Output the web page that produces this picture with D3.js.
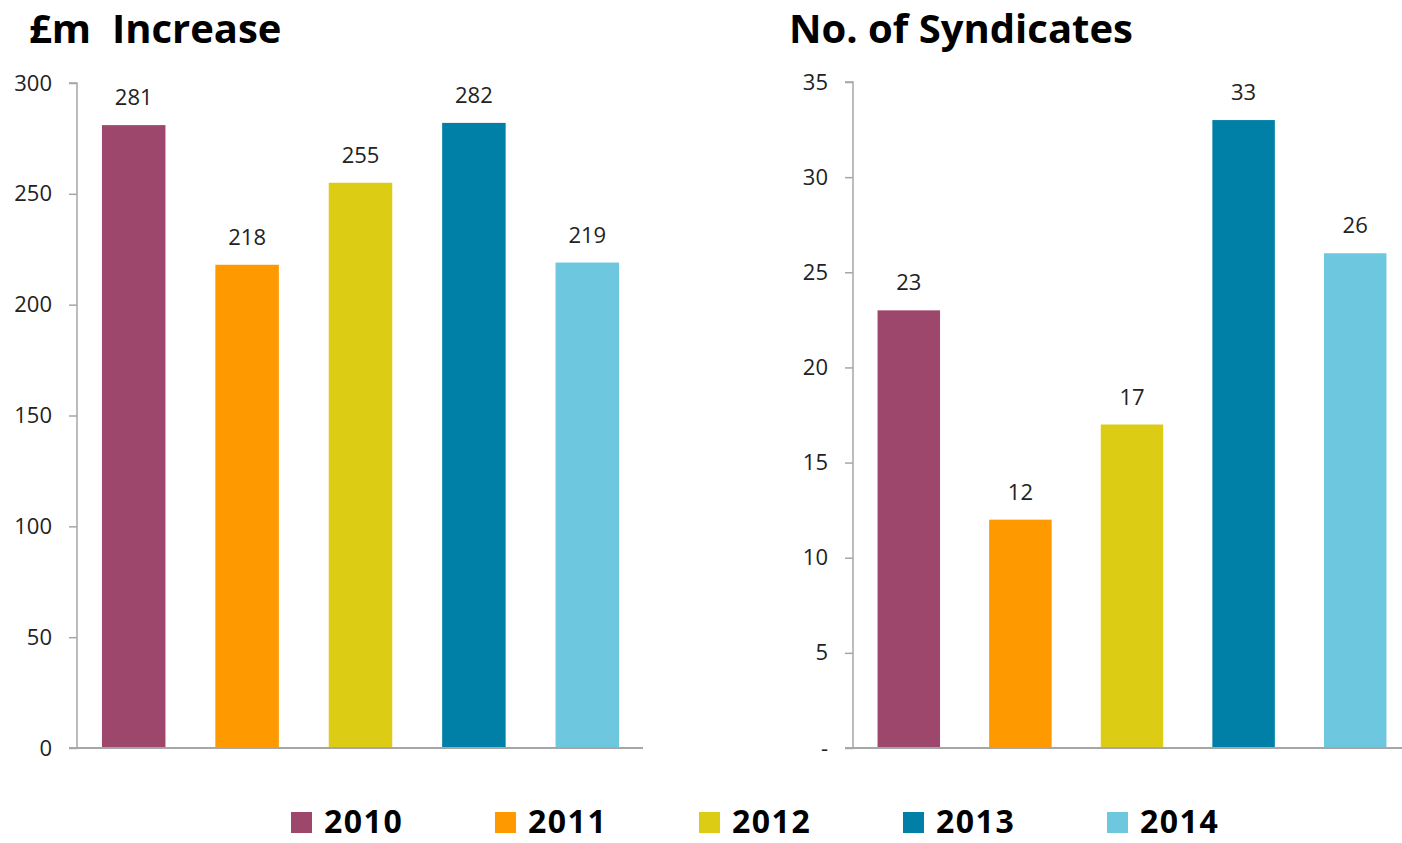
<!DOCTYPE html>
<html>
<head>
<meta charset="utf-8">
<script src="https://cdn.jsdelivr.net/npm/d3@7"></script>
<style>
  body { margin: 0; background: #fff; }
  svg { display: block; font-family: "Open Sans", "Noto Sans", sans-serif; }
</style>
</head>
<body>
<svg id="chart" width="1402" height="843"></svg>
<script>
const years = ["2010", "2011", "2012", "2013", "2014"];
const colours = ["#9e476d", "#ff9900", "#dccc13", "#0080a6", "#6dc7df"];
const increaseValues = [281, 218, 255, 282, 219];
const syndicateValues = [23, 12, 17, 33, 26];
const increaseTicks = [0, 50, 100, 150, 200, 250, 300];
const syndicateTicks = [0, 5, 10, 15, 20, 25, 30, 35];

const svg = d3.select("#chart");
const axisGrey = "#a6a6a6";

// draws one panel: title, y axis, bars, value labels
function panel(opts) {
  const g = svg.append("g");
  const x = d3.scaleBand().domain(years).range([opts.x0, opts.x1]).paddingInner(0.44).paddingOuter(0.22);
  const y = d3.scaleLinear().domain([0, opts.max]).range([748, opts.top]);

  g.append("text")
    .attr("x", opts.titleX).attr("y", 43)
    .attr("font-size", 40).attr("font-weight", 700).attr("fill", "#000")
    .style("white-space", "pre")
    .text(opts.title);

  const yAxis = d3.axisLeft(y).tickValues(opts.ticks).tickSize(8).tickPadding(17)
    .tickFormat(opts.fmt);
  const ax = g.append("g").attr("transform", `translate(${opts.x0},0)`).call(yAxis);
  ax.select(".domain").attr("stroke", axisGrey).attr("stroke-width", 1.5).attr("d", `M-8,${opts.top}H0V748`);
  ax.selectAll(".tick line").attr("stroke", axisGrey).attr("stroke-width", 1.5);
  ax.selectAll(".tick text").attr("font-size", 22).attr("fill", "#222").attr("font-family", "'Open Sans', sans-serif");

  g.append("line")
    .attr("x1", opts.x0 - 8).attr("x2", opts.axisEnd)
    .attr("y1", 748).attr("y2", 748)
    .attr("stroke", axisGrey).attr("stroke-width", 2);

  g.selectAll("rect.bar").data(opts.values).join("rect")
    .attr("class", "bar")
    .attr("x", (d, i) => x(years[i]))
    .attr("width", x.bandwidth())
    .attr("y", d => y(d))
    .attr("height", d => 747 - y(d))
    .attr("fill", (d, i) => colours[i]);

  g.selectAll("text.val").data(opts.values).join("text")
    .attr("class", "val")
    .attr("x", (d, i) => x(years[i]) + x.bandwidth() / 2)
    .attr("y", d => y(d) - 20)
    .attr("text-anchor", "middle")
    .attr("font-size", 22).attr("fill", "#222")
    .text(d => d);
}

panel({
  title: "£m\u00a0\u00a0Increase", titleX: 29,
  x0: 77, x1: 644, axisEnd: 643, top: 83, max: 300,
  values: increaseValues, ticks: increaseTicks, fmt: d => d
});

panel({
  title: "No. of Syndicates", titleX: 789,
  x0: 853, x1: 1411, axisEnd: 1402, top: 82, max: 35,
  values: syndicateValues, ticks: syndicateTicks, fmt: d => d === 0 ? "-" : d
});

// legend
const legend = svg.append("g").attr("transform", "translate(291,812)");
const item = legend.selectAll("g").data(years).join("g")
  .attr("transform", (d, i) => `translate(${i * 204},0)`);
item.append("rect").attr("width", 21).attr("height", 21).attr("fill", (d, i) => colours[i]);
item.append("text").attr("x", 33).attr("y", 21)
  .attr("font-size", 32).attr("font-weight", 700).attr("fill", "#000")
  .attr("letter-spacing", 1.5)
  .text(d => d);
</script>
</body>
</html>
